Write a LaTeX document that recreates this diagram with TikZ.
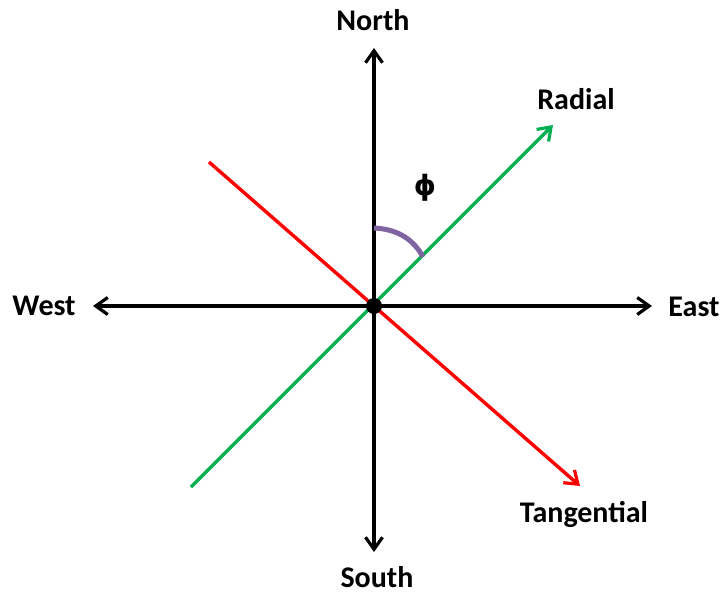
\documentclass[tikz,border=0pt]{standalone}
\usepackage{fontspec}
\setmainfont{Carlito}
\newfontfamily\symfont{DejaVu Sans}
\usetikzlibrary{arrows.meta}
\definecolor{offgreen}{RGB}{0,176,80}
\definecolor{offpurple}{RGB}{128,100,162}
\tikzset{
  lbl/.style={font=\fontsize{30}{32}\selectfont\bfseries, inner sep=0pt},
  axis/.style={line width=3.4pt, -{Straight Barb[length=12pt,width=17pt,line width=3.2pt]}},
}
\begin{document}
\begin{tikzpicture}[x=1pt,y=-1pt]
\useasboundingbox (0,0) rectangle (723,595);
\coordinate (O) at (374,306);
\coordinate (N) at (374,48);
\coordinate (S) at (374,552);
\coordinate (W) at (93,306);
\coordinate (E) at (652,306);
\coordinate (G0) at (191,487);
\coordinate (G1) at (553,125);
\coordinate (R0) at (209,162);
\coordinate (R1) at (580,486);
\coordinate (A0) at (374,228);
\coordinate (A1) at (423,257);
% axes
\draw[axis] (O) -- (N);
\draw[axis] (O) -- (S);
\draw[axis] (O) -- (W);
\draw[axis] (O) -- (E);
% radial (green)
\draw[axis, draw=offgreen] (G0) -- (G1);
% tangential (red)
\draw[axis, draw=red] (R0) -- (R1);
% angle arc
\draw[offpurple, line width=5pt] (A0) .. controls (398,229) and (414,240) .. (A1);
% center dot
\fill (O) circle (8pt);
% labels
\node[lbl] (north) at (373,20) {North};
\node[lbl] (south) at (377,577) {South};
\node[lbl] (west) at (44,306) {West};
\node[lbl] (east) at (694,307) {East};
\node[lbl] (radial) at (576,99) {Radial};
\node[lbl] (tang) at (584,514) {Tangential};
\node[inner sep=0pt, font=\symfont\bfseries\fontsize{28}{30}\selectfont] (phi) at (425,188) {ϕ};
\end{tikzpicture}
\end{document}
